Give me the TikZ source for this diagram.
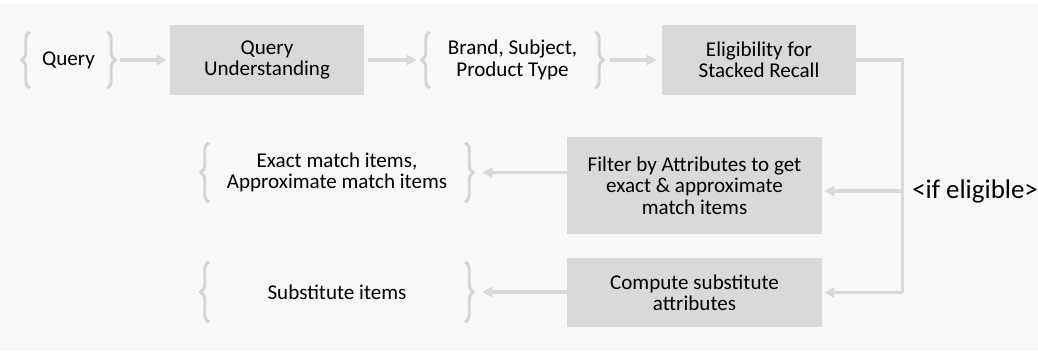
\documentclass[tikz,border=0pt]{standalone}
\usepackage{fontspec}
\setmainfont{Carlito}
\usetikzlibrary{arrows.meta,decorations.pathreplacing}
\definecolor{boxgray}{HTML}{D9D9D9}
\definecolor{linegray}{HTML}{D9D9D9}
\definecolor{bracegray}{HTML}{D4D4D4}
\definecolor{bggray}{HTML}{F8F8F8}

\begin{document}
\begin{tikzpicture}[x=0.75pt,y=-0.75pt,
		every node/.style={font=\fontsize{15.8}{16}\selectfont,align=center,inner sep=0pt},
		stage/.style={fill=boxgray,minimum width=145.5pt,minimum height=52.5pt},
		wide/.style={stage,minimum width=191.25pt},
		braced/.style={minimum height=42pt},
		brc/.style={draw=bracegray,line width=2.2pt,decorate,decoration={brace,amplitude=6pt}},
		arr/.style={draw=linegray,line width=2.5pt,-{Triangle[length=7.5pt,width=7.5pt]}}]
		\useasboundingbox (0,0) rectangle (1038,351);
		\fill[bggray] (0,4) rectangle (1038,351);
		% top row
		\node[braced,minimum width=57.75pt] (query) at (68.5,60) {Query};
		\node[stage] (qu) at (267,60) {Query\\Understanding};
		\node[braced,minimum width=123.75pt] (brand) at (512.5,60) {Brand, Subject,\\Product Type};
		\node[stage] (elig) at (759,60) {Eligibility for\\Stacked Recall};
		% lower rows
		\node[wide,minimum height=72.75pt] (filter) at (694.5,185.5) {Filter by Attributes to get\\exact \& approximate\\match items};
		\node[wide,minimum height=51.75pt] (compute) at (694.5,292.5) {Compute substitute\\attributes};
		\node[braced,minimum width=192pt,minimum height=44.25pt] (exact) at (337,172.5) {Exact match items,\\Approximate match items};
		\node[braced,minimum width=192pt,minimum height=45pt] (subst) at (337,292) {Substitute items};
		\node[anchor=west,font=\fontsize{20.2}{24}\selectfont] (cond) at (912,191) {<if eligible>};
		\foreach \n in {query,brand,exact,subst} {
			\draw[brc] (\n.south west) -- (\n.north west);
			\draw[brc] (\n.north east) -- (\n.south east);
		}
		\draw[arr,shorten <=9.75pt,shorten >=2.25pt] (query) -- (qu);
		\draw[arr,shorten <=3pt,shorten >=9.75pt] (qu) -- (brand);
		\draw[arr,shorten <=11.25pt,shorten >=3.75pt] (brand) -- (elig);
		\draw[draw=linegray,line width=2.5pt] (elig.east) -- ++(46,0) coordinate (turn) -- (turn |- compute.east);
		\draw[arr,shorten >=1.5pt] (turn |- cond) -- (filter.east |- cond);
		\draw[arr,shorten >=1.5pt] (turn |- compute.east) -- (compute);
		\draw[arr,shorten >=12.75pt] (filter.west |- exact) -- (exact);
		\draw[arr,shorten >=12.75pt] (compute.west |- subst) -- (subst);
	\end{tikzpicture}
\end{document}
